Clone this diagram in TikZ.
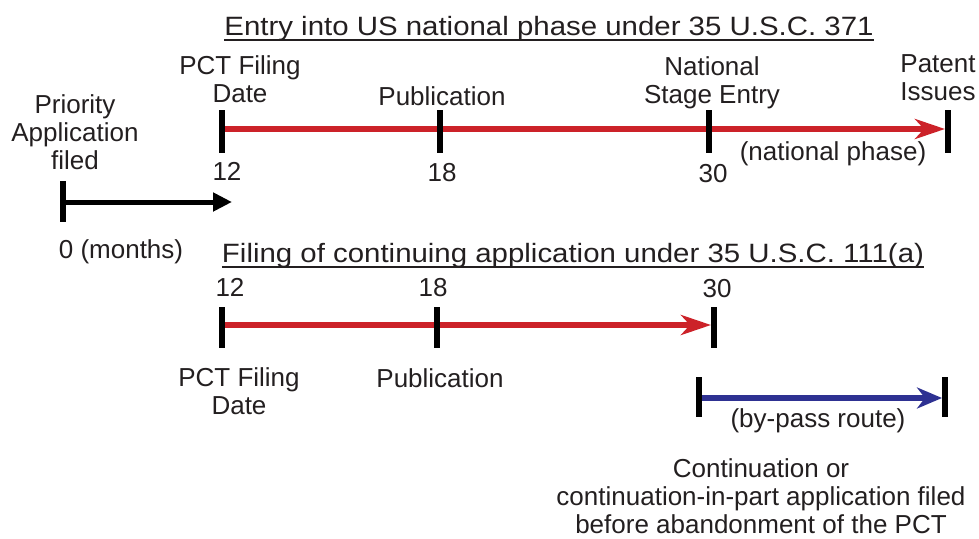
\documentclass[tikz,border=0pt]{standalone}
\usepackage{fontspec}
\usepackage{graphicx}
\setmainfont{Liberation Sans}
\usetikzlibrary{arrows.meta}
\definecolor{tred}{RGB}{204,34,41}
\definecolor{tblue}{RGB}{46,49,146}
\definecolor{ttext}{RGB}{35,31,32}
\newcommand{\widettl}[1]{\scalebox{1.11}[1]{#1}}
\begin{document}
\begin{tikzpicture}[x=1pt,y=-1pt,
  lbl/.style={font=\fontsize{26}{28}\selectfont, text=ttext, align=center, anchor=base, inner sep=0pt},
  ttl/.style={lbl, font=\fontsize{26.5}{30}\selectfont},
  tickmark/.style={line width=5.5pt, black},
  redline/.style={line width=5.5pt, tred, -{Stealth[length=30pt,width=20pt,inset=9pt]}},
  blueline/.style={line width=5.5pt, tblue, -{Stealth[length=25pt,width=21pt,inset=8pt]}},
  blackline/.style={line width=5pt, black, -{Triangle[length=19pt,width=18pt]}},
  uline/.style={line width=2pt, ttext}]
\useasboundingbox (0,0) rectangle (979,538);

% ---- top timeline coordinates
\coordinate (a1t) at (222,110); \coordinate (a1b) at (222,153);
\coordinate (a2t) at (440,110); \coordinate (a2b) at (440,153);
\coordinate (a3t) at (709,110); \coordinate (a3b) at (709,153);
\coordinate (a4t) at (948,110); \coordinate (a4b) at (948,153);
\coordinate (ra) at (222,129); \coordinate (rb) at (945,129);
% priority arrow
\coordinate (p0t) at (63,181); \coordinate (p0b) at (63,222);
\coordinate (pa) at (63,202); \coordinate (pb) at (232,202);
% ---- bottom timeline
\coordinate (b1t) at (222,307); \coordinate (b1b) at (222,348);
\coordinate (b2t) at (437,307); \coordinate (b2b) at (437,348);
\coordinate (b3t) at (714,307); \coordinate (b3b) at (714,348);
\coordinate (ba) at (222,325); \coordinate (bb) at (711,325);
\coordinate (c1t) at (699,377); \coordinate (c1b) at (699,417);
\coordinate (c2t) at (945,377); \coordinate (c2b) at (945,417);
\coordinate (ca) at (699,398); \coordinate (cb) at (942,398);

% lines
\draw[redline] (ra) -- (rb);
\draw[blackline] (pa) -- (pb);
\draw[redline] (ba) -- (bb);
\draw[blueline] (ca) -- (cb);
\foreach \t/\b in {a1t/a1b,a2t/a2b,a3t/a3b,a4t/a4b,p0t/p0b,b1t/b1b,b2t/b2b,b3t/b3b,c1t/c1b,c2t/c2b}
  \draw[tickmark] (\t) -- (\b);

% titles
\node[ttl] (title1) at (549,35) {\widettl{Entry into US national phase under 35 U.S.C. 371}};
\draw[uline] ([yshift=-5pt]title1.base west) -- ([yshift=-5pt]title1.base east);
\node[ttl] (title2) at (573,262) {\widettl{Filing of continuing application under 35 U.S.C. 111(a)}};
\draw[uline] ([yshift=-4.5pt]title2.base west) -- ([yshift=-4.5pt]title2.base east);

% top labels (base = baseline of last line)
\node[lbl] (pct1) at (240,102) {PCT Filing\\Date};
\node[lbl] (pub1) at (442,105) {Publication};
\node[lbl] (nse) at (712,103) {National\\Stage Entry};
\node[lbl] (pat) at (938,100) {Patent\\Issues};
\node[lbl] (prio) at (75,169) {Priority\\Application\\filed};
\node[lbl] (m12a) at (227,180) {12};
\node[lbl] (m18a) at (442,181) {18};
\node[lbl] (m30a) at (713,182) {30};
\node[lbl] (natph) at (833,160) {(national phase)};
\node[lbl] (m0) at (121,258) {0 (months)};

% bottom labels
\node[lbl] (m12b) at (230,296) {12};
\node[lbl] (m18b) at (433,296) {18};
\node[lbl] (m30b) at (717,297) {30};
\node[lbl] (pct2) at (239,414) {PCT Filing\\Date};
\node[lbl] (pub2) at (440,387) {Publication};
\node[lbl] (bypass) at (818,427) {(by-pass route)};
\node[lbl] (cont) at (761,533) {Continuation or\\continuation-in-part application filed\\before abandonment of the PCT};
\end{tikzpicture}
\end{document}
